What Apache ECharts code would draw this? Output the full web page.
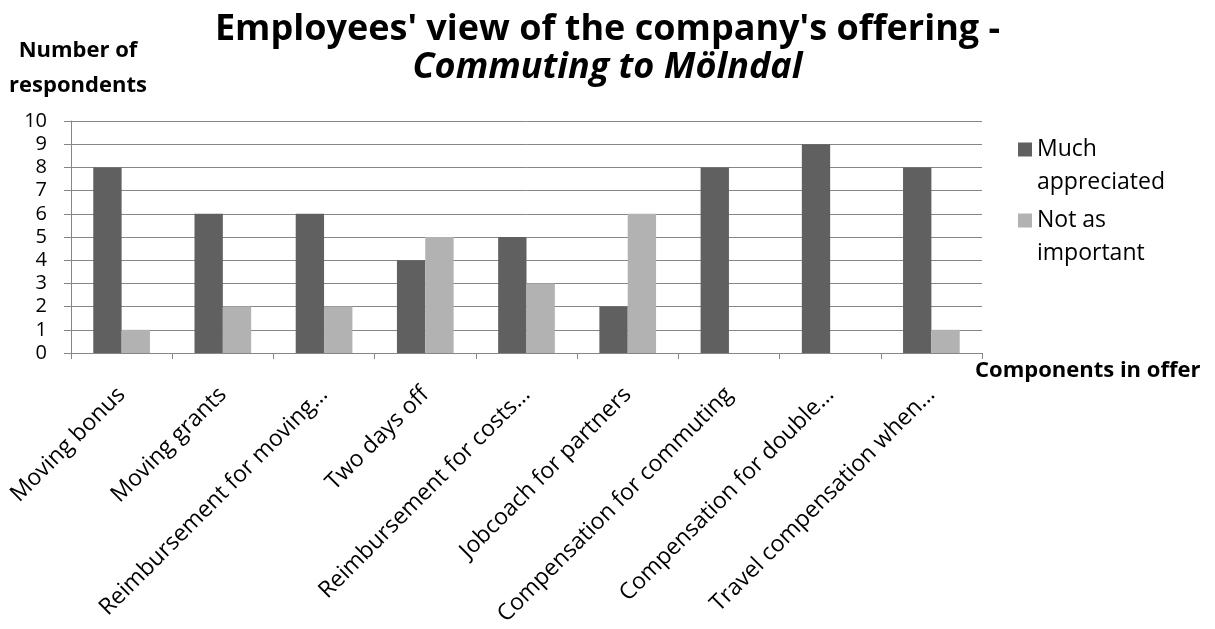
<!DOCTYPE html>
<html>
<head>
<meta charset="utf-8">
<script src="https://cdn.jsdelivr.net/npm/echarts@6/dist/echarts.min.js"></script>
<style>
  html, body { margin: 0; padding: 0; background: #fff; }
  #main { width: 1215px; height: 629px; }
</style>
</head>
<body>
<div id="main"></div>
<script>
// data
var categories = ['Moving bonus', 'Moving grants', 'Reimbursement for moving…', 'Two days off',
                  'Reimbursement for costs…', 'Jobcoach for partners', 'Compensation for commuting',
                  'Compensation for double…', 'Travel compensation when…'];
var muchAppreciated = [8, 6, 6, 4, 5, 2, 8, 9, 8];
var notAsImportant = [1, 2, 2, 5, 3, 6, 0, 0, 1];
var yTicks = [0, 10, 1]; // min, max, step

// legend text wraps like in the original; leading blank line keeps icon on first line
var legendLabels = {
  'Much appreciated': '\nMuch\nappreciated',
  'Not as important': '\nNot as\nimportant'
};

var font = '"Open Sans", Lato, sans-serif';

var option = {
  backgroundColor: '#fff',
  animation: false,
  title: {
    text: "Employees' view of the company's offering -\n{i|Commuting to Mölndal}",
    left: 'center',
    top: 6,
    textStyle: {
      fontFamily: font, fontSize: 36, fontWeight: 'bold', color: '#000', lineHeight: 38,
      rich: {
        i: { fontFamily: font, fontSize: 36, fontWeight: 'bold', fontStyle: 'italic', color: '#000', lineHeight: 38 }
      }
    }
  },
  legend: {
    orient: 'vertical',
    left: 1013,
    top: 95,
    itemWidth: 14,
    itemHeight: 14,
    itemGap: -28,
    icon: 'rect',
    data: ['Much appreciated', 'Not as important'],
    formatter: function (n) { return legendLabels[n]; },
    textStyle: { fontFamily: font, fontSize: 23, color: '#000', lineHeight: 33 }
  },
  grid: { left: 71, right: 233, top: 121, bottom: 276, outerBoundsMode: 'none' },
  xAxis: {
    type: 'category',
    data: categories,
    name: 'Components in offer',
    nameLocation: 'end',
    nameGap: -7,
    nameTextStyle: {
      fontFamily: font, fontSize: 22, fontWeight: 'bold', color: '#000',
      align: 'left', verticalAlign: 'top', padding: [7, 0, 0, 0]
    },
    axisLine: { lineStyle: { color: '#868686', width: 1 } },
    axisTick: { show: true, length: 6, lineStyle: { color: '#868686' } },
    axisLabel: {
      interval: 0, rotate: 45, margin: 38,
      fontFamily: font, fontSize: 23, color: '#000'
    }
  },
  yAxis: {
    type: 'value',
    min: yTicks[0], max: yTicks[1], interval: yTicks[2],
    name: 'Number of\nrespondents',
    nameLocation: 'end',
    nameGap: 18,
    nameTextStyle: {
      fontFamily: font, fontSize: 22, fontWeight: 'bold', color: '#000', lineHeight: 35,
      align: 'center', padding: [0, 0, 0, 14]
    },
    axisLine: { show: true, lineStyle: { color: '#868686', width: 1 } },
    axisTick: { show: true, length: 7, lineStyle: { color: '#868686' } },
    axisLabel: { fontFamily: font, fontSize: 20, color: '#000', margin: 24 },
    splitLine: { show: true, lineStyle: { color: '#868686', width: 1 } }
  },
  series: [
    {
      name: 'Much appreciated', type: 'bar', data: muchAppreciated,
      barGap: '0%', barCategoryGap: '44%',
      itemStyle: { color: '#606060' }
    },
    {
      name: 'Not as important', type: 'bar', data: notAsImportant,
      itemStyle: { color: '#b2b2b2' }
    }
  ]
};

var myChart = echarts.init(document.getElementById('main'));
myChart.setOption(option);
</script>
</body>
</html>
